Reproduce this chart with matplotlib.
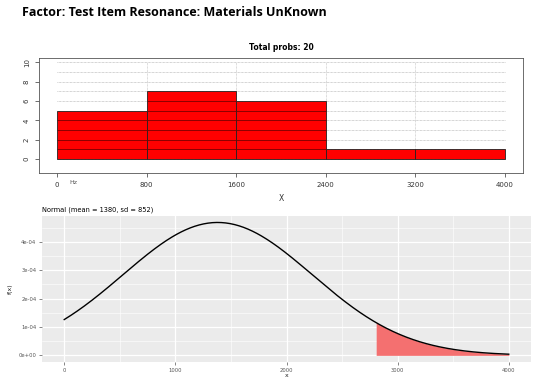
import numpy as np
import matplotlib.pyplot as plt
from matplotlib.ticker import MultipleLocator

# histogram of resonance frequencies
bin_edges = [0, 800, 1600, 2400, 3200, 4000]
counts = [5, 7, 6, 1, 1]
hist_ticks = [0, 800, 1600, 2400, 3200, 4000]

# fitted normal and tail cut-off
mu, sd = 1380, 852
tail_from = 2800
norm_ticks = [0, 1000, 2000, 3000, 4000]

W, H = 533, 377
fig = plt.figure(figsize=(W / 100, H / 100), dpi=100)

def box(l, t, r, b):
    return [l / W, 1 - b / H, (r - l) / W, (b - t) / H]

fig.text(22 / W, 1 - 12 / H, "Factor: Test Item Resonance: Materials UnKnown",
         fontsize=9, fontweight="bold", family="Open Sans", va="center", ha="left")

# --- top: histogram ---
ax1 = fig.add_axes(box(39, 58, 523, 173))
widths = np.diff(bin_edges)
ax1.bar(bin_edges[:-1], counts, width=widths, align="edge", color="#FF0000",
        edgecolor="#222222", linewidth=0.6, zorder=2)
# light dotted grid over the whole plotting range
for y in range(0, 11):
    ax1.axhline(y, xmin=(0 + 160) / 4320, xmax=(4000 + 160) / 4320,
                color="#aaaaaa", lw=0.5, ls=(0, (1, 1)), zorder=1)
for x in hist_ticks[1:-1]:
    ax1.axvline(x, ymin=1.44 / 11.88, ymax=11.44 / 11.88,
                color="#bbbbbb", lw=0.5, ls=(0, (1, 1)), zorder=1)
# grid shows through the bars as dark lines
for left, w, c in zip(bin_edges[:-1], widths, counts):
    ax1.hlines(range(1, c), left, left + w, color="#7a0000", lw=0.6, zorder=3)
ax1.set_xlim(-160, 4160)
ax1.set_ylim(-1.44, 10.44)
ax1.set_xticks(hist_ticks)
ax1.set_yticks(range(0, 11, 2))
ax1.tick_params(axis="both", labelsize=5, length=3, width=0.5, colors="#333333")
for lab in ax1.get_yticklabels():
    lab.set_rotation(90)
    lab.set_va("center")
for s in ax1.spines.values():
    s.set_linewidth(0.6)
    s.set_color("#555555")
ax1.set_xlabel("X", fontsize=5.5, labelpad=4, color="#333333")
ax1.set_title("Total probs: 20", fontsize=5.5, fontweight="bold", pad=6)
fig.text(69 / W, 1 - 183 / H, "Hz", fontsize=4.5, color="#555555", va="center")

# --- bottom: normal density with shaded upper tail ---
ax2 = fig.add_axes(box(42, 216, 531, 362))
xs = np.linspace(0, 4000, 400)
pdf = np.exp(-0.5 * ((xs - mu) / sd) ** 2) / (sd * np.sqrt(2 * np.pi))
tail = xs >= tail_from
ax2.fill_between(xs[tail], 0, pdf[tail], color="#F47070", lw=0, zorder=2)
ax2.plot(xs, pdf, color="black", lw=1.0, zorder=3)
ax2.set_facecolor("#EBEBEB")
ax2.set_xlim(-200, 4200)
ax2.set_ylim(-0.234e-4, 4.91e-4)
ax2.set_xticks(norm_ticks)
ax2.set_yticks([0, 1e-4, 2e-4, 3e-4, 4e-4])
ax2.set_yticklabels(["0e+00", "1e-04", "2e-04", "3e-04", "4e-04"])
ax2.xaxis.set_minor_locator(MultipleLocator(500))
ax2.yaxis.set_minor_locator(MultipleLocator(0.5e-4))
ax2.grid(which="major", color="white", lw=0.9, zorder=0)
ax2.grid(which="minor", color="white", lw=0.4, zorder=0)
ax2.set_axisbelow(True)
for s in ax2.spines.values():
    s.set_visible(False)
ax2.tick_params(axis="both", which="major", labelsize=3.8, length=2, width=0.5,
                colors="#555555", pad=2)
ax2.tick_params(which="minor", length=0)
ax2.set_xlabel("x", fontsize=4.5, labelpad=0, color="#222222")
ax2.set_ylabel("f(x)", fontsize=4.5, labelpad=4, color="#222222")
ax2.set_title("Normal (mean = 1380, sd = 852)", fontsize=4.8, loc="left", pad=3)

fig.savefig("out.png", dpi=100)
